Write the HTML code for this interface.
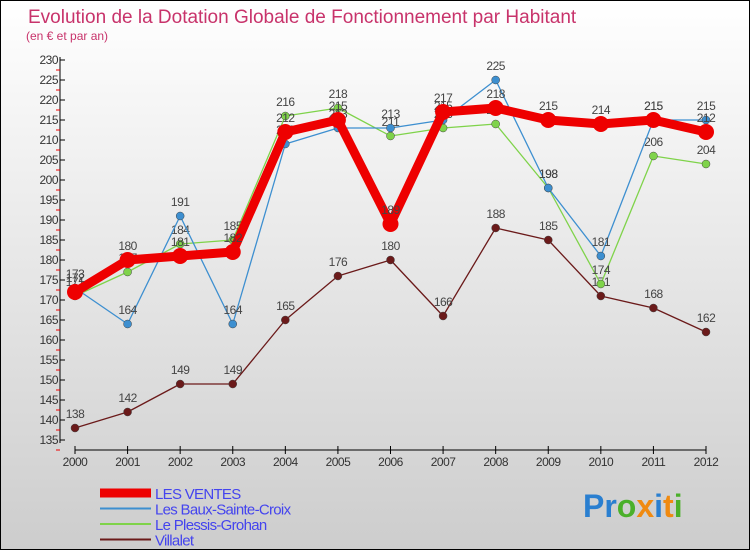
<!DOCTYPE html>
<html><head><meta charset="utf-8"><style>
body{margin:0}
#c{width:750px;height:550px;position:relative;overflow:hidden;font-family:"Liberation Sans",sans-serif}
</style></head><body>
<div id="c">
<svg id="svg" width="750" height="550">
<defs><linearGradient id="bg" x1="0" y1="0" x2="0" y2="1"><stop offset="0" stop-color="#ffffff"/><stop offset="1" stop-color="#cdcdcd"/></linearGradient></defs>
<rect x="0.5" y="0.5" width="749" height="549" fill="url(#bg)" stroke="#000"/>
<text x="28" y="23" font-size="19" fill="#c8336b">Evolution de la Dotation Globale de Fonctionnement par Habitant</text>
<text x="26" y="40" font-size="12" fill="#c8336b">(en € et par an)</text>
<g id="axes"></g><g id="series"></g><g id="legend"></g>
<text x="583" y="517" font-size="32" font-weight="bold"><tspan fill="#2a7fd0">Pr</tspan><tspan fill="#4bb02a">o</tspan><tspan fill="#f08a10">x</tspan><tspan fill="#2a7fd0">i</tspan><tspan fill="#f08a10">t</tspan><tspan fill="#4bb02a">i</tspan></text>
</svg></div>
<script>
const years=[2000,2001,2002,2003,2004,2005,2006,2007,2008,2009,2010,2011,2012];
const lesVentes=[172,180,181,182,212,215,189,217,218,215,214,215,212];
const baux=[173,164,191,164,209,213,213,215,225,198,181,215,215];
const plessis=[171,177,184,185,216,218,211,213,214,198,174,206,204];
const villalet=[138,142,149,149,165,176,180,166,188,185,171,168,162];
const yTicks=[135,140,145,150,155,160,165,170,175,180,185,190,195,200,205,210,215,220,225,230];
const NS="http://www.w3.org/2000/svg";
const X=i=>75+i*(706-75)/12;
const Y=v=>60+(230-v)*4;
function mk(t,a,p){const e=document.createElementNS(NS,t);for(const k in a)e.setAttribute(k,a[k]);p.appendChild(e);return e;}
const ax=document.getElementById('axes');
let l=mk('line',{x1:60,y1:57,x2:60,y2:443,stroke:'#000'},ax);

l=mk('line',{x1:75,y1:450,x2:706,y2:450,stroke:'#000'},ax);

yTicks.forEach(v=>{
 mk('line',{x1:60,y1:Y(v),x2:65,y2:Y(v),stroke:'#000'},ax);
 mk('line',{x1:56,y1:Y(v)+10,x2:60,y2:Y(v)+10,stroke:'#e00'},ax);
 const t=mk('text',{x:58,y:Y(v)+4,'font-size':12,'text-anchor':'end',fill:'#333','letter-spacing':'-0.5'},ax);
 t.textContent=v;
 
});
years.forEach((yr,i)=>{
 mk('line',{x1:X(i),y1:446,x2:X(i),y2:454,stroke:'#000'},ax);
 const t=mk('text',{x:X(i),y:466,'font-size':12,'text-anchor':'middle',fill:'#333','letter-spacing':'-0.5'},ax);
 t.textContent=yr;
 
});
const sg=document.getElementById('series');
const series=[
 {name:'villalet',data:villalet,c:'#6b1a1a',w:1.3,r:4},
 {name:'plessis',data:plessis,c:'#7fd34a',w:1.3,r:4},
 {name:'baux',data:baux,c:'#3d8fd0',w:1.3,r:4},
 {name:'les-ventes',data:lesVentes,c:'#ee0000',w:9,r:8}];
series.forEach(s=>{
 const g=mk('g',{},sg);
 
 const p=mk('polyline',{points:s.data.map((v,i)=>X(i)+','+Y(v)).join(' '),fill:'none',stroke:s.c,'stroke-width':s.w,'stroke-linejoin':'round'},g);
 
 s.data.forEach((v,i)=>{
  const c=mk('circle',{cx:X(i),cy:Y(v),r:s.r,fill:s.c,stroke:s.w>2?'none':'#444','stroke-width':0.5},g);
  
  const t=mk('text',{x:X(i),y:Y(v)-10,'font-size':12,'text-anchor':'middle',fill:'#444','letter-spacing':'-0.5'},g);
  t.textContent=v;
  
 });
});
const lg=document.getElementById('legend');
const leg=[['LES VENTES','#ee0000',9],['Les Baux-Sainte-Croix','#3d8fd0',2],['Le Plessis-Grohan','#7fd34a',2],['Villalet','#6b1a1a',2]];
leg.forEach((e,i)=>{
 const y=493+i*15.5;
 const g=mk('g',{},lg);
 
 mk('line',{x1:100,y1:y,x2:151,y2:y,stroke:e[1],'stroke-width':e[2]},g);
 const t=mk('text',{x:155,y:y+6,'font-size':15,fill:'#4444ee','letter-spacing':'-0.7'},g);
 t.textContent=e[0];
});
</script>
</body></html>
